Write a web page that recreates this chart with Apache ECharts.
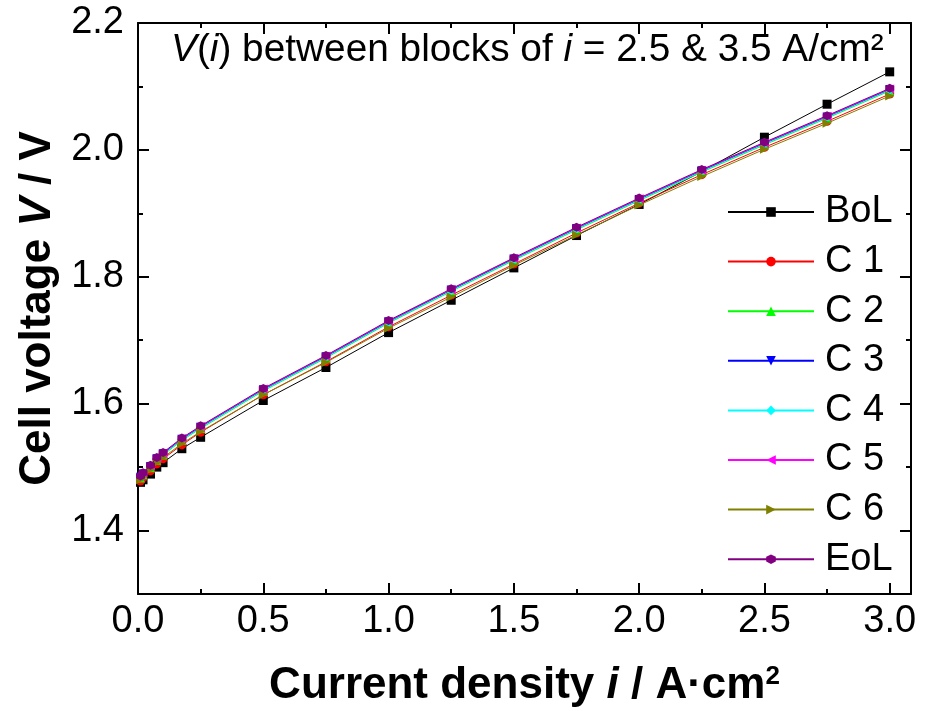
<!DOCTYPE html>
<html><head><meta charset="utf-8">
<script src="https://cdn.jsdelivr.net/npm/echarts@6/dist/echarts.min.js"></script>
<style>html,body{margin:0;padding:0;background:#fff}#c{width:932px;height:711px}</style>
</head><body><div id="c"></div>
<script>
// ---- data ----
const currentDensity = [0.01,0.02,0.05,0.075,0.1,0.175,0.25,0.5,0.75,1.0,1.25,1.5,1.75,2.0,2.25,2.5,2.75,3.0];
const vBoL = [1.476,1.480,1.489,1.500,1.507,1.529,1.547,1.605,1.657,1.712,1.763,1.814,1.865,1.914,1.966,2.020,2.072,2.123];
const vC1  = [1.478,1.483,1.494,1.505,1.513,1.535,1.555,1.614,1.666,1.721,1.771,1.820,1.869,1.916,1.961,2.004,2.045,2.088];
const vC2  = [1.483,1.488,1.499,1.511,1.519,1.542,1.561,1.620,1.672,1.727,1.777,1.826,1.874,1.920,1.965,2.008,2.050,2.093];
const vC3  = [1.484,1.489,1.501,1.513,1.521,1.544,1.563,1.622,1.674,1.729,1.779,1.828,1.876,1.922,1.967,2.010,2.052,2.095];
const vC4  = [1.484,1.489,1.500,1.512,1.520,1.543,1.562,1.621,1.673,1.728,1.778,1.827,1.875,1.921,1.966,2.009,2.051,2.094];
const vC5  = [1.486,1.491,1.502,1.514,1.522,1.545,1.564,1.623,1.675,1.730,1.780,1.829,1.877,1.923,1.968,2.011,2.053,2.096];
const vC6  = [1.480,1.485,1.496,1.507,1.515,1.537,1.556,1.614,1.665,1.719,1.768,1.818,1.866,1.913,1.958,2.001,2.042,2.085];
const vEoL = [1.486,1.491,1.503,1.515,1.523,1.546,1.565,1.624,1.676,1.731,1.781,1.830,1.878,1.924,1.969,2.012,2.054,2.097];
const seriesNames = ['BoL','C 1','C 2','C 3','C 4','C 5','C 6','EoL'];
const seriesValues = [vBoL,vC1,vC2,vC3,vC4,vC5,vC6,vEoL];
const xMajorTicks = [0,0.5,1.0,1.5,2.0,2.5,3.0];
const xMinorTicks = [0.25,0.75,1.25,1.75,2.25,2.75];
const yMajorTicks = [1.4,1.6,1.8,2.0,2.2];
const yMinorTicks = [1.5,1.7,1.9,2.1];

// ---- styles ----
const colors = ['#000000','#FF0000','#00FF00','#0000FF','#00FFFF','#FF00FF','#808000','#800080'];
const symbols = [
  'rect','circle','triangle',
  'path://M0,0 L10,0 L5,10 Z',
  'diamond',
  'path://M10,0 L10,10 L0,5 Z',
  'path://M0,0 L10,5 L0,10 Z',
  'path://M5,0 L9.33,2.5 L9.33,7.5 L5,10 L0.67,7.5 L0.67,2.5 Z'
];
const FONT = '"Liberation Sans", Arial, sans-serif';
const X_MIN = 0, X_MAX = 3.085, Y_MIN = 1.3, Y_MAX = 2.2;

function xAxisDef(pos, ticks, len, withLine, withLabel) {
  return {
    type:'value', position:pos, min:X_MIN, max:X_MAX,
    axisLine:{show:withLine, onZero:false, lineStyle:{color:'#000', width:2}},
    axisTick:{show:true, inside:true, length:len, customValues:ticks, lineStyle:{color:'#000', width:2}},
    axisLabel:{show:withLabel, customValues:ticks, formatter:v=>v.toFixed(1), fontSize:38, color:'#000', fontFamily:FONT, margin:9},
    splitLine:{show:false}
  };
}
function yAxisDef(pos, ticks, len, withLine, withLabel) {
  return {
    type:'value', position:pos, min:Y_MIN, max:Y_MAX,
    axisLine:{show:withLine, onZero:false, lineStyle:{color:'#000', width:2}},
    axisTick:{show:true, inside:true, length:len, customValues:ticks, lineStyle:{color:'#000', width:2}},
    axisLabel:{show:withLabel, customValues:ticks, formatter:v=>v.toFixed(1), fontSize:38, color:'#000', fontFamily:FONT, margin:14},
    splitLine:{show:false}
  };
}

const xAxes = [
  xAxisDef('bottom', xMajorTicks, 11, true, true),
  xAxisDef('bottom', xMinorTicks, 5, false, false),
  xAxisDef('top', xMajorTicks, 11, true, false),
  xAxisDef('top', xMinorTicks, 5, false, false)
];
Object.assign(xAxes[0], {
  name:'Current density {bi|i} / A·cm{sup|2}', nameLocation:'middle', nameGap:70,
  nameTextStyle:{fontSize:44, fontWeight:'bold', color:'#000', fontFamily:FONT,
    rich:{
      bi:{fontSize:44, fontWeight:'bold', fontStyle:'italic', color:'#000', fontFamily:FONT},
      sup:{fontSize:26, fontWeight:'bold', color:'#000', fontFamily:FONT, verticalAlign:'top'}
    }}
});
const yAxes = [
  yAxisDef('left', yMajorTicks, 11, true, true),
  yAxisDef('left', yMinorTicks, 5, false, false),
  yAxisDef('right', yMajorTicks, 11, true, false),
  yAxisDef('right', yMinorTicks, 5, false, false)
];
Object.assign(yAxes[0], {
  name:'Cell voltage {bi|V} / V', nameLocation:'middle', nameGap:72,
  nameTextStyle:{fontSize:44, fontWeight:'bold', color:'#000', fontFamily:FONT,
    rich:{ bi:{fontSize:44, fontWeight:'bold', fontStyle:'italic', color:'#000', fontFamily:FONT} }}
});

const series = seriesNames.map((name, k) => ({
  name, type:'line', xAxisIndex:0, yAxisIndex:0,
  data: currentDensity.map((x, j) => [x, seriesValues[k][j]]),
  symbol: symbols[k], symbolSize: 9, showSymbol:true,
  lineStyle:{color:colors[k], width:1},
  itemStyle:{color:colors[k]},
  emphasis:{disabled:true}, animation:false, z: 2 + k
}));

const chart = echarts.init(document.getElementById('c'), null, {renderer:'canvas'});
chart.setOption({
  backgroundColor:'#fff',
  animation:false,
  grid:{left:138, right:21, top:23, bottom:117, containLabel:false, outerBoundsMode:'none'},
  title:{
    text:'{it|V}({it|i}) between blocks of {it|i} = 2.5 & 3.5 A/cm²',
    left:166, top:26,
    textStyle:{fontSize:38.8, fontWeight:'normal', color:'#000', fontFamily:FONT,
      rich:{it:{fontSize:38.8, fontStyle:'italic', fontWeight:'normal', color:'#000', fontFamily:FONT}}}
  },
  legend:{
    orient:'vertical', left:727, top:193, padding:0,
    itemWidth:86, itemHeight:12, itemGap:11.6,
    data:seriesNames,
    textStyle:{fontSize:38, color:'#000', fontFamily:FONT, lineHeight:36, padding:[0,0,0,6]}
  },
  xAxis:xAxes,
  yAxis:yAxes,
  series
});
</script></body></html>
